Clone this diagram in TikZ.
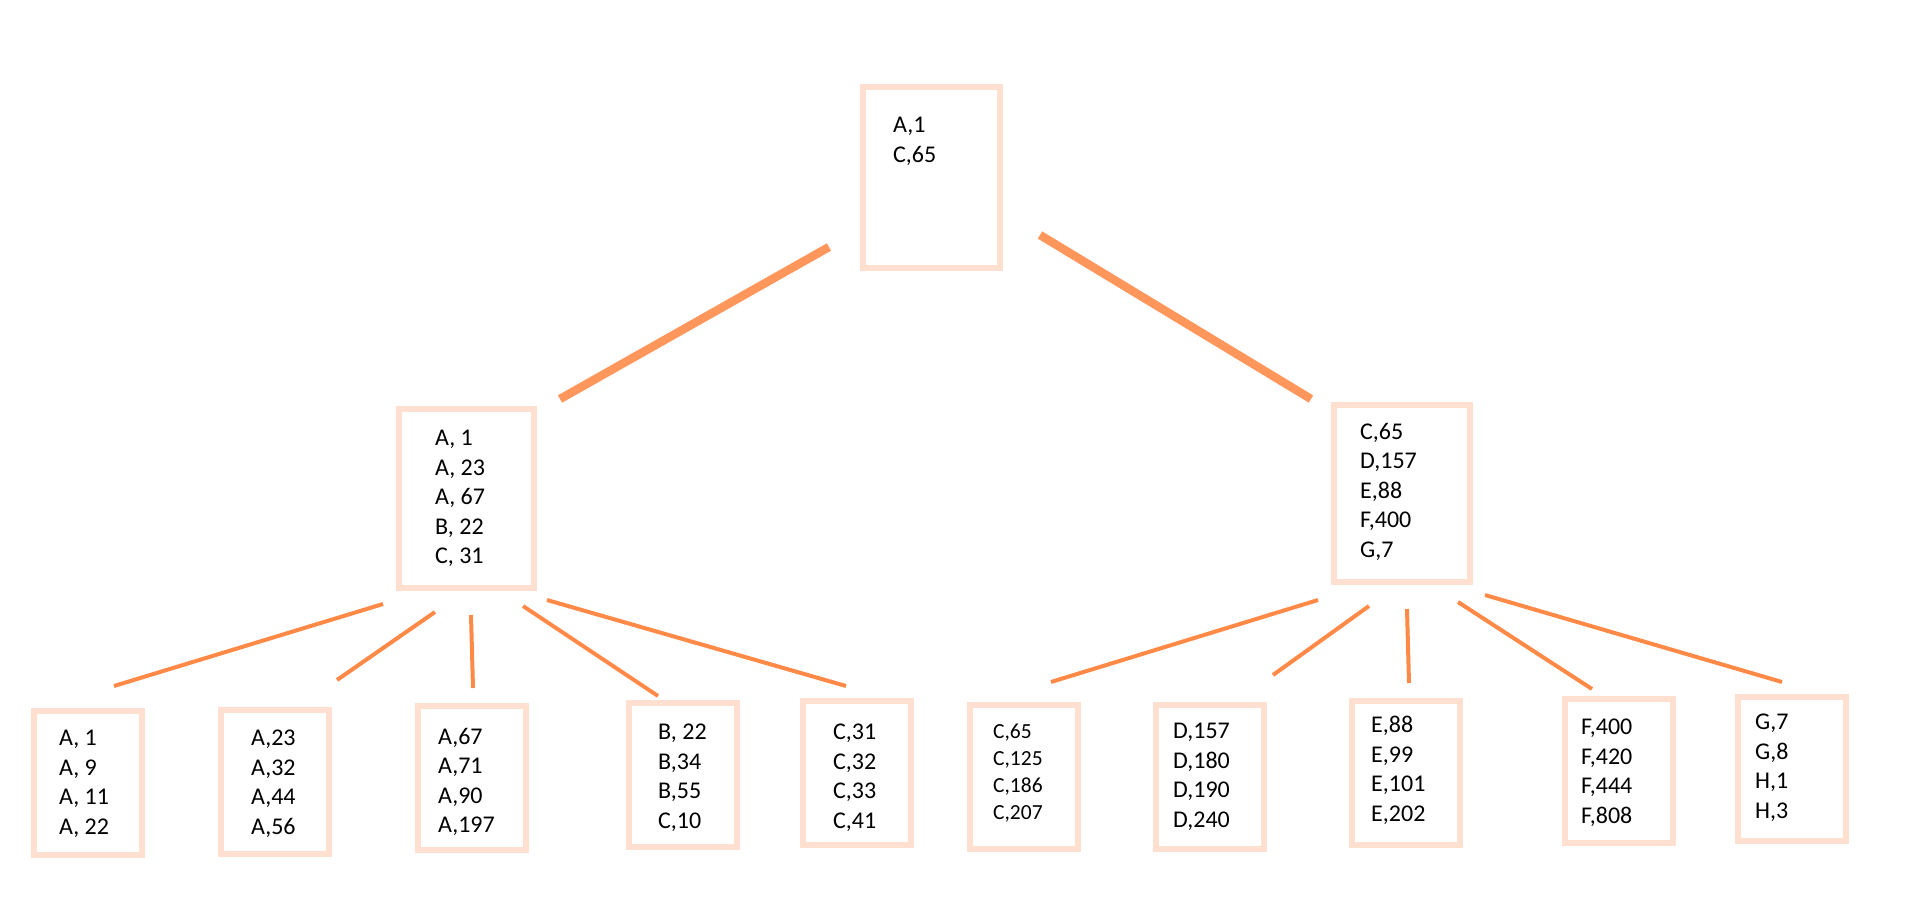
\documentclass[tikz,border=0pt]{standalone}
\usepackage{fontspec}
\setmainfont{Carlito}
\definecolor{boxline}{HTML}{FFDFD0}
\definecolor{trunk}{HTML}{FF975D}
\definecolor{branch}{HTML}{FF8A47}
\begin{document}
\begin{tikzpicture}[x=1pt,y=-1pt,
  keybox/.style={draw=boxline,line width=6pt,rectangle,inner sep=0pt,
    minimum width=108pt,minimum height=144pt},
  keys/.style={anchor=north west,inner sep=0pt,align=left,
    font=\fontsize{24}{29.5}\selectfont},
  smallkeys/.style={keys,font=\fontsize{21.5}{27}\selectfont},
  trunkline/.style={draw=trunk,line width=8.5pt},
  branchline/.style={draw=branch,line width=4pt}]
\useasboundingbox (0,0) rectangle (1920,900);

% root and second level
\node[keybox,minimum width=137pt,minimum height=181pt] (root) at (931.5,177.5) {};
\node[keys] (rootT) at (893,117) {A,1\\C,65};
\node[keybox,minimum width=135pt,minimum height=179pt] (midL) at (466.5,498.5) {};
\node[keys] (midLT) at (435,430) {A, 1\\A, 23\\A, 67\\B, 22\\C, 31};
\node[keybox,minimum width=136pt,minimum height=177pt] (midR) at (1402,493.5) {};
\node[keys] (midRT) at (1360,423) {C,65\\D,157\\E,88\\F,400\\G,7};

% leaves
\node[keybox] (l1) at (87.5,782.5) {};
\node[keys] (l1T) at (59,730) {A, 1\\A, 9\\A, 11\\A, 22};
\node[keybox] (l2) at (275,781.5) {};
\node[keys] (l2T) at (251,730) {A,23\\A,32\\A,44\\A,56};
\node[keybox] (l3) at (471.5,778) {};
\node[keys] (l3T) at (438,728) {A,67\\A,71\\A,90\\A,197};
\node[keybox] (l4) at (682.5,775) {};
\node[keys] (l4T) at (658,724) {B, 22\\B,34\\B,55\\C,10};
\node[keybox] (l5) at (856.5,772.5) {};
\node[keys] (l5T) at (833,724) {C,31\\C,32\\C,33\\C,41};
\node[keybox] (l6) at (1024,777) {};
\node[smallkeys] (l6T) at (993,724) {C,65\\C,125\\C,186\\C,207};
\node[keybox] (l7) at (1210,776.5) {};
\node[keys] (l7T) at (1173,723) {D,157\\D,180\\D,190\\D,240};
\node[keybox] (l8) at (1406,772.5) {};
\node[keys] (l8T) at (1371,716) {E,88\\E,99\\E,101\\E,202};
\node[keybox] (l9) at (1618.5,771) {};
\node[keys] (l9T) at (1581,719) {F,400\\F,420\\F,444\\F,808};
\node[keybox] (l10) at (1791.5,769) {};
\node[keys] (l10T) at (1755,714) {G,7\\G,8\\H,1\\H,3};

% connector end points
\coordinate (rL) at (829,247);  \coordinate (mLt) at (560,399);
\coordinate (rR) at (1040,235); \coordinate (mRt) at (1311,399);
\coordinate (mL1) at (383,604); \coordinate (c1) at (114,686);
\coordinate (mL2) at (435,612); \coordinate (c2) at (337,680);
\coordinate (mL3) at (471,615); \coordinate (c3) at (473,688);
\coordinate (mL4) at (523,606); \coordinate (c4) at (658,696);
\coordinate (mL5) at (547,600); \coordinate (c5) at (846,686);
\coordinate (mR1) at (1318,600); \coordinate (c6) at (1051,682);
\coordinate (mR2) at (1369,606); \coordinate (c7) at (1273,675);
\coordinate (mR3) at (1407,609); \coordinate (c8) at (1409,683);
\coordinate (mR4) at (1458,602); \coordinate (c9) at (1592,689);
\coordinate (mR5) at (1485,595); \coordinate (c10) at (1782,682);

% connectors
\draw[trunkline] (rL) -- (mLt);
\draw[trunkline] (rR) -- (mRt);
\foreach \a/\b in {mL1/c1,mL2/c2,mL3/c3,mL4/c4,mL5/c5,
                   mR1/c6,mR2/c7,mR3/c8,mR4/c9,mR5/c10}
  \draw[branchline] (\a) -- (\b);
\end{tikzpicture}
\end{document}
